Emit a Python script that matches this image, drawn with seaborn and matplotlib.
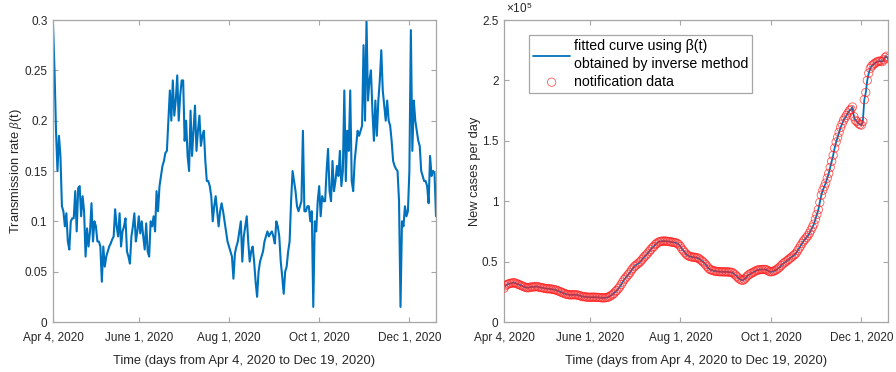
import numpy as np
import pandas as pd
import matplotlib
matplotlib.use("Agg")
import matplotlib.pyplot as plt
import seaborn as sns

# ---- data -------------------------------------------------------------
start_date = "2020-04-04"
end_date = "2020-12-19"

# daily transmission rate beta(t) obtained by the inverse method
beta_values = [
    0.295, 0.25, 0.19, 0.15, 0.185, 0.165, 0.115, 0.11, 0.095, 0.108,
    0.08, 0.072, 0.1, 0.103, 0.103, 0.13, 0.09, 0.133, 0.135, 0.105,
    0.125, 0.11, 0.065, 0.093, 0.075, 0.09, 0.118, 0.08, 0.1, 0.095,
    0.08, 0.08, 0.075, 0.04, 0.075, 0.055, 0.065, 0.07, 0.075, 0.078,
    0.082, 0.085, 0.112, 0.095, 0.085, 0.108, 0.075, 0.09, 0.095, 0.103,
    0.07, 0.065, 0.058, 0.085, 0.095, 0.108, 0.08, 0.09, 0.105, 0.088,
    0.1, 0.085, 0.072, 0.098, 0.07, 0.065, 0.1, 0.095, 0.105, 0.09,
    0.13, 0.11, 0.135, 0.145, 0.155, 0.16, 0.168, 0.17, 0.2, 0.23,
    0.2, 0.24, 0.205, 0.22, 0.245, 0.2, 0.225, 0.24, 0.24, 0.18,
    0.2, 0.165, 0.15, 0.21, 0.165, 0.19, 0.215, 0.17, 0.19, 0.205,
    0.175, 0.185, 0.19, 0.16, 0.14, 0.14, 0.135, 0.125, 0.1, 0.115,
    0.125, 0.11, 0.095, 0.11, 0.118, 0.11, 0.1, 0.09, 0.08, 0.075,
    0.07, 0.065, 0.043, 0.068, 0.075, 0.08, 0.09, 0.1, 0.06, 0.085,
    0.095, 0.105, 0.08, 0.06, 0.07, 0.075, 0.06, 0.04, 0.025, 0.05,
    0.06, 0.065, 0.07, 0.08, 0.085, 0.09, 0.085, 0.088, 0.09, 0.085,
    0.078, 0.1, 0.095, 0.085, 0.06, 0.045, 0.028, 0.05, 0.055, 0.07,
    0.08, 0.12, 0.15, 0.14, 0.13, 0.115, 0.11, 0.115, 0.12, 0.19,
    0.11, 0.11, 0.115, 0.115, 0.1, 0.11, 0.015, 0.1, 0.09, 0.12,
    0.135, 0.105, 0.125, 0.12, 0.12, 0.15, 0.172, 0.13, 0.12, 0.16,
    0.13, 0.14, 0.155, 0.145, 0.17, 0.135, 0.15, 0.23, 0.14, 0.19,
    0.17, 0.23, 0.14, 0.13, 0.16, 0.175, 0.19, 0.185, 0.19, 0.195,
    0.275, 0.2, 0.3, 0.22, 0.24, 0.25, 0.21, 0.18, 0.22, 0.185,
    0.22, 0.24, 0.27, 0.23, 0.215, 0.2, 0.22, 0.2, 0.195, 0.18,
    0.16, 0.155, 0.152, 0.15, 0.12, 0.015, 0.1, 0.095, 0.115, 0.105,
    0.11, 0.15, 0.29, 0.17, 0.22, 0.2, 0.19, 0.18, 0.175, 0.15,
    0.145, 0.14, 0.14, 0.135, 0.118, 0.165, 0.145, 0.15, 0.148, 0.105,
]

# daily notified new cases, in units of 1e5
cases_e5 = [
    0.28, 0.30, 0.31, 0.315, 0.32, 0.32, 0.325, 0.325, 0.32, 0.315,
    0.31, 0.305, 0.30, 0.295, 0.29, 0.285, 0.283, 0.285, 0.29, 0.29,
    0.29, 0.292, 0.295, 0.29, 0.288, 0.285, 0.283, 0.28, 0.278, 0.275,
    0.275, 0.275, 0.272, 0.27, 0.268, 0.265, 0.26, 0.255, 0.25, 0.245,
    0.24, 0.235, 0.23, 0.228, 0.225, 0.225, 0.225, 0.226, 0.225, 0.225,
    0.222, 0.218, 0.215, 0.21, 0.21, 0.208, 0.206, 0.205, 0.205, 0.205,
    0.206, 0.205, 0.205, 0.204, 0.203, 0.202, 0.20, 0.20, 0.20, 0.203,
    0.205, 0.21, 0.218, 0.225, 0.235, 0.25, 0.26, 0.275, 0.29, 0.31,
    0.33, 0.35, 0.365, 0.38, 0.395, 0.41, 0.43, 0.445, 0.46, 0.47,
    0.48, 0.49, 0.50, 0.515, 0.53, 0.545, 0.555, 0.57, 0.585, 0.60,
    0.615, 0.625, 0.64, 0.65, 0.66, 0.665, 0.668, 0.67, 0.67, 0.67,
    0.668, 0.666, 0.665, 0.662, 0.66, 0.658, 0.655, 0.65, 0.64, 0.625,
    0.605, 0.59, 0.575, 0.56, 0.55, 0.545, 0.54, 0.538, 0.536, 0.535,
    0.532, 0.528, 0.52, 0.51, 0.50, 0.49, 0.475, 0.46, 0.445, 0.435,
    0.43, 0.425, 0.422, 0.42, 0.418, 0.417, 0.416, 0.416, 0.415, 0.415,
    0.415, 0.414, 0.413, 0.412, 0.41, 0.40, 0.39, 0.378, 0.365, 0.355,
    0.348, 0.345, 0.352, 0.365, 0.38, 0.39, 0.398, 0.405, 0.41, 0.418,
    0.425, 0.43, 0.432, 0.434, 0.435, 0.435, 0.435, 0.432, 0.425, 0.418,
    0.415, 0.418, 0.422, 0.428, 0.435, 0.445, 0.455, 0.468, 0.48, 0.49,
    0.498, 0.508, 0.518, 0.528, 0.538, 0.548, 0.558, 0.57, 0.59, 0.61,
    0.63, 0.65, 0.67, 0.685, 0.70, 0.715, 0.735, 0.76, 0.785, 0.81,
    0.85, 0.89, 0.93, 0.99, 1.05, 1.09, 1.12, 1.15, 1.19, 1.23,
    1.28, 1.33, 1.38, 1.44, 1.49, 1.53, 1.57, 1.61, 1.64, 1.67,
    1.69, 1.71, 1.73, 1.75, 1.76, 1.78, 1.70, 1.67, 1.66, 1.645,
    1.635, 1.63, 1.66, 1.84, 1.90, 2.00, 2.06, 2.10, 2.12, 2.13,
    2.14, 2.15, 2.155, 2.16, 2.16, 2.155, 2.17, 2.19, 2.20, 2.18,
]

tick_dates = ["2020-04-04", "2020-06-01", "2020-08-01", "2020-10-01", "2020-12-01"]
tick_labels = ["Apr 4, 2020", "June 1, 2020", "Aug 1, 2020", "Oct 1, 2020", "Dec 1, 2020"]
beta_yticks = [0, 0.05, 0.1, 0.15, 0.2, 0.25, 0.3]
cases_yticks = [0, 0.5, 1, 1.5, 2, 2.5]

xlabel_text = "Time (days from Apr 4, 2020 to Dec 19, 2020)"
fit_label = "fitted curve using β(t)\nobtained by inverse method"
data_label = "notification data"

# ---- frame ------------------------------------------------------------
dates = pd.date_range(start_date, end_date, freq="D")
df = pd.DataFrame({
    "date": dates,
    "beta": beta_values,
    "cases": np.array(cases_e5) * 1e5,
})

sns.set_theme(style="white")
plt.rcParams["font.family"] = ["Liberation Sans", "DejaVu Sans"]
plt.rcParams["mathtext.fontset"] = "custom"
plt.rcParams["mathtext.it"] = "Liberation Serif:italic"
plt.rcParams["mathtext.rm"] = "Liberation Sans"

BLUE = "#0072BD"
RED = "#FF2020"
AXC = "#A6A6A6"
TXT = "#262626"

fig = plt.figure(figsize=(8.96, 3.72), dpi=100)
ax1 = fig.add_axes([0.0592, 0.1344, 0.4274, 0.8118])
ax2 = fig.add_axes([0.5625, 0.1344, 0.4286, 0.8118])

# left: transmission rate
sns.lineplot(data=df, x="date", y="beta", ax=ax1, color=BLUE, linewidth=1.5)
ax1.set_ylim(0, 0.3)
ax1.set_yticks(beta_yticks)
ax1.set_yticklabels([f"{v:g}" for v in beta_yticks])
ax1.set_ylabel("Transmission rate $\\beta$(t)", fontsize=9.3, color=TXT, labelpad=0)

# right: fitted curve and notification data
sns.lineplot(data=df, x="date", y="cases", ax=ax2, color=BLUE, linewidth=1.3,
             label=fit_label, zorder=2)
sns.scatterplot(data=df, x="date", y="cases", ax=ax2, marker="o", s=36,
                facecolors="none", edgecolor=RED, linewidth=0.6, alpha=0.75,
                label=data_label, zorder=3)
ax2.set_ylim(0, 2.5e5)
ax2.set_yticks([v * 1e5 for v in cases_yticks])
ax2.set_yticklabels([f"{v:g}" for v in cases_yticks])
ax2.set_ylabel("New cases per day", fontsize=9.3, color=TXT, labelpad=1)
ax2.text(0.005, 1.012, "$\\times$10$^{5}$", transform=ax2.transAxes,
         fontsize=8.5, color=TXT, ha="left", va="bottom")

leg = ax2.legend(loc="upper left", bbox_to_anchor=(0.065, 0.95), borderaxespad=0,
                 fontsize=10.2, frameon=True, fancybox=False, framealpha=1,
                 edgecolor=AXC, handlelength=2.6, handletextpad=0.25,
                 borderpad=0.3, labelspacing=0.3)
leg.get_frame().set_linewidth(0.9)
for t in leg.get_texts():
    t.set_color("black")
    t.set_linespacing(1.3)

for ax in (ax1, ax2):
    ax.set_xlim(dates[0], dates[-1])
    ax.set_xticks(pd.to_datetime(tick_dates))
    ax.set_xticklabels(tick_labels)
    ax.set_xlabel(xlabel_text, fontsize=9.3, color=TXT, labelpad=8)
    ax.tick_params(axis="both", which="major", direction="in", length=3.5,
                   width=0.8, color=AXC, labelsize=8.5, labelcolor=TXT,
                   top=True, right=True, bottom=True, left=True, pad=4)
    ax.tick_params(axis="x", pad=7)
    for sp in ax.spines.values():
        sp.set_visible(True)
        sp.set_color(AXC)
        sp.set_linewidth(0.9)
    ax.set_facecolor("white")

fig.savefig("out.png", dpi=100, facecolor="white")
